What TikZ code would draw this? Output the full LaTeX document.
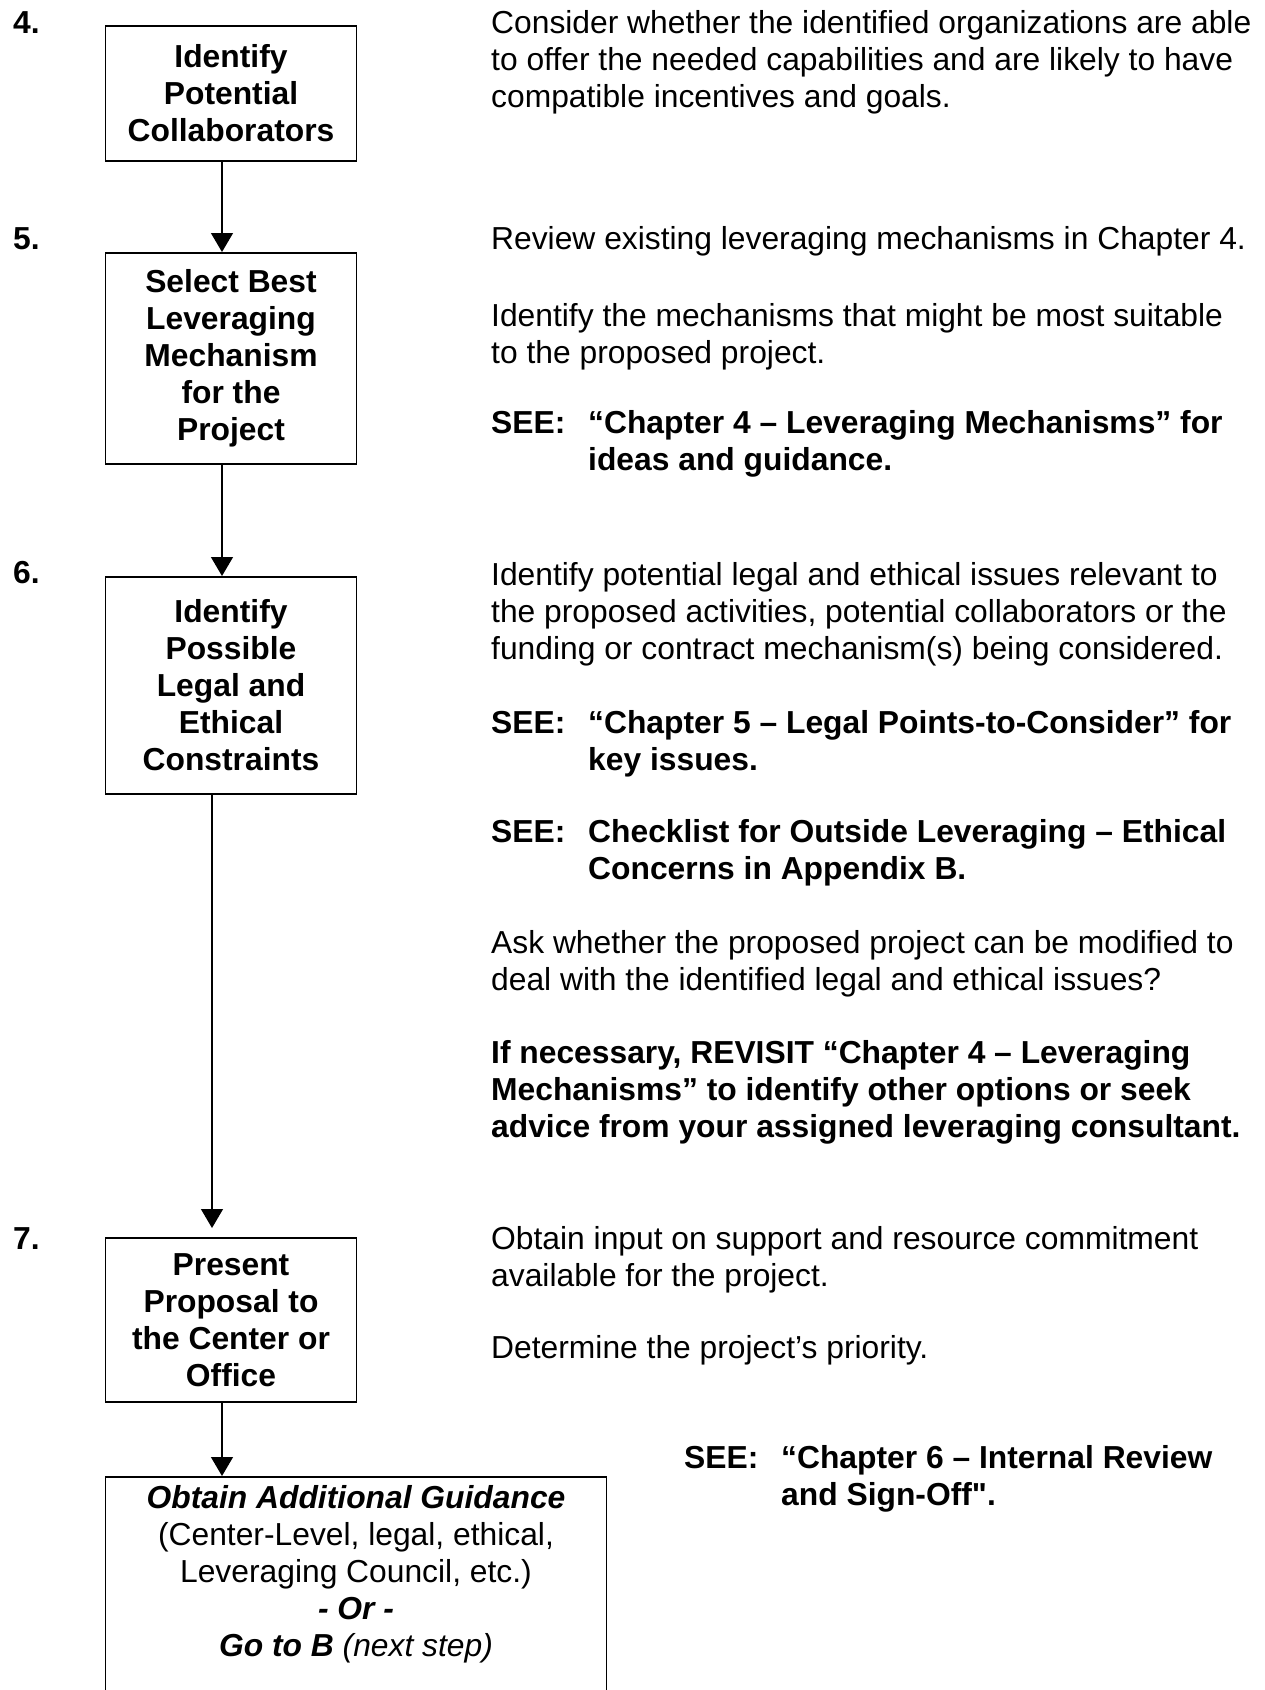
\documentclass[tikz,border=0pt]{standalone}
\usepackage{fontspec}
\setmainfont{Liberation Sans}[Ligatures=TeXOff]
\usetikzlibrary{arrows.meta}

\newcommand{\fstrut}{\rule{0pt}{25pt}}

\begin{document}
\begin{tikzpicture}[
    x=1pt, y=-1pt,
    >={Triangle[width=22pt,length=19pt]},
    font=\fontsize{31.8}{37}\selectfont,
    stepbox/.style ={draw, line width=1.5pt, align=center, anchor=north,
                     font=\fontsize{31.8}{37}\selectfont\bfseries,
                     minimum width=251pt, inner sep=4pt},
    num/.style     ={font=\fontsize{31.8}{37}\selectfont\bfseries,
                     anchor=base west, inner sep=0pt},
    txt/.style     ={align=left, anchor=north west, inner sep=0pt},
    see/.style     ={txt, font=\fontsize{31.8}{37}\selectfont\bfseries},
    flow/.style    ={->, line width=1.3pt},
  ]
  \useasboundingbox (0,0) rectangle (1265,1690);

  % --- step numbers ---
  \node[num] (n4) at (13,33)   {4.};
  \node[num] (n5) at (13,249)  {5.};
  \node[num] (n6) at (13,583)  {6.};
  \node[num] (n7) at (13,1249) {7.};

  % --- flow boxes ---
  \node[stepbox, minimum height=135pt] (collab)  at (231,25)   {Identify\\Potential\\Collaborators};
  \node[stepbox, minimum height=211pt] (mech)    at (231,252)  {Select Best\\Leveraging\\Mechanism\\for the\\Project};
  \node[stepbox, minimum height=217pt] (legal)   at (231,576)  {Identify\\Possible\\Legal and\\Ethical\\Constraints};
  \node[stepbox, minimum height=164pt] (present) at (231,1237) {Present\\Proposal to\\the Center or\\Office};
  \node[stepbox, minimum width=501pt, inner ysep=9pt, text depth=230pt,
        font=\fontsize{31.8}{37}\selectfont] (guide) at (356,1476)
    {\textbf{\textit{Obtain Additional Guidance}}\\(Center-Level, legal, ethical,\\Leveraging Council, etc.)\\
     \textbf{\textit{- Or -}}\\\textbf{\textit{Go to B}} \textit{(next step)}};

  % --- arrows ---
  \draw[flow] ([xshift=-9pt]collab.south) -- ([xshift=-9pt]mech.north);
  \draw[flow] ([xshift=-9pt]mech.south) -- ([xshift=-9pt]legal.north);
  \draw[flow, shorten >=9pt] ([xshift=-19pt]legal.south) -- ([xshift=-19pt]present.north);
  \draw[flow] ([xshift=-9pt]present.south) -- ([xshift=-9pt]present.south |- guide.north);

  % --- notes, step 4 ---
  \node[txt] (t4) at (491,8) {\fstrut Consider whether the identified organizations are able\\
    to offer the needed capabilities and are likely to have\\compatible incentives and goals.};

  % --- notes, step 5 ---
  \node[txt] (t5a) at (491,224) {\fstrut Review existing leveraging mechanisms in Chapter 4.};
  \node[txt] (t5b) at (491,301) {\fstrut Identify the mechanisms that might be most suitable\\to the proposed project.};
  \node[see] (t5c) at (491,408) {\fstrut\makebox[97pt][l]{SEE:}“Chapter 4 – Leveraging Mechanisms” for\\
    \hspace*{97pt}ideas and guidance.};

  % --- notes, step 6 ---
  \node[txt] (t6a) at (491,560) {\fstrut Identify potential legal and ethical issues relevant to\\
    the proposed activities, potential collaborators or the\\funding or contract mechanism(s) being considered.};
  \node[see] (t6b) at (491,708) {\fstrut\makebox[97pt][l]{SEE:}“Chapter 5 – Legal Points-to-Consider” for\\
    \hspace*{97pt}key issues.};
  \node[see] (t6c) at (491,817) {\fstrut\makebox[97pt][l]{SEE:}Checklist for Outside Leveraging – Ethical\\
    \hspace*{97pt}Concerns in Appendix B.};
  \node[txt] (t6d) at (491,928) {\fstrut Ask whether the proposed project can be modified to\\
    deal with the identified legal and ethical issues?};
  \node[see] (t6e) at (491,1038) {\fstrut If necessary, REVISIT “Chapter 4 – Leveraging\\
    Mechanisms” to identify other options or seek\\advice from your assigned leveraging consultant.};

  % --- notes, step 7 ---
  \node[txt] (t7a) at (491,1224) {\fstrut Obtain input on support and resource commitment\\available for the project.};
  \node[txt] (t7b) at (491,1333) {\fstrut Determine the project’s priority.};
  \node[see] (t7c) at (684,1443) {\fstrut\makebox[97pt][l]{SEE:}“Chapter 6 – Internal Review\\
    \hspace*{97pt}and Sign-Off".};
\end{tikzpicture}
\end{document}
